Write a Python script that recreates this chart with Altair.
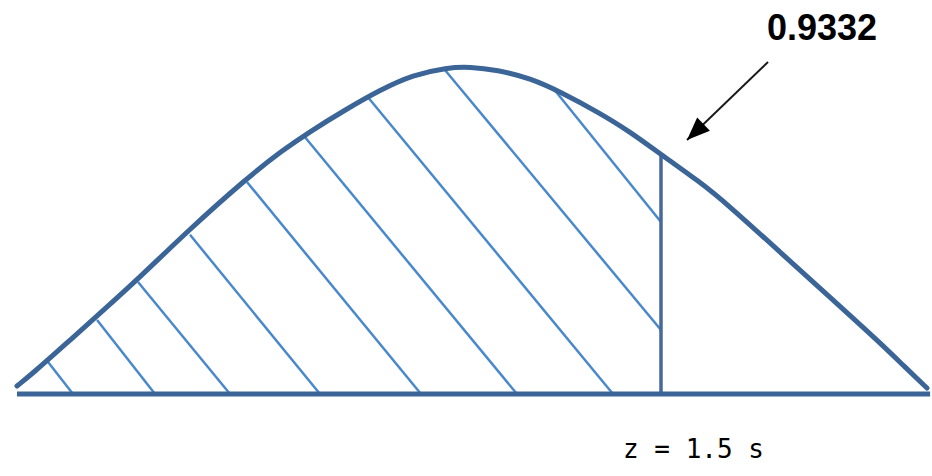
import altair as alt
import pandas as pd

# Bell curve, horizontal position in units of s (z), vertical in density units
curve_z = [-3.454, -3.331, -3.069, -2.815, -2.508, -2.146, -1.685, -1.408, -1.200,
           -0.931, -0.662, -0.408, -0.146, 0.031, 0.238, 0.492, 0.746, 1.008,
           1.262, 1.515, 1.800, 2.008, 2.415, 2.823, 3.185, 3.362, 3.546]
curve_h = [0.010, 0.026, 0.064, 0.101, 0.146, 0.203, 0.270, 0.305, 0.328,
           0.355, 0.380, 0.399, 0.408, 0.409, 0.405, 0.395, 0.376, 0.353,
           0.328, 0.2975, 0.265, 0.2375, 0.1775, 0.1175, 0.064, 0.036, 0.0075]

# Hatching of the area left of the cut: top and bottom ends of each stroke
hatch_z_top = [-3.215, -2.838, -2.523, -2.123, -1.685, -1.238, -0.754, -0.162, 0.669]
hatch_h_top = [0.040, 0.0925, 0.140, 0.199, 0.265, 0.321, 0.371, 0.405, 0.3825]
hatch_z_bottom = [-3.023, -2.392, -1.815, -1.123, -0.346, 0.392, 1.131, 1.5, 1.5]
hatch_h_bottom = [0.0, 0.0, 0.0, 0.0, 0.0, 0.0, 0.0, 0.080, 0.215]

# Cut point and its height on the curve
z_cut = 1.5
h_cut = 0.298

# Axis line extent
axis_z = [-3.454, 3.57]

# Annotations
area_label = "0.9332"
cut_label = "z = 1.5 s"
arrow_from = [2.323, 0.415]
arrow_to = [1.700, 0.3175]

CURVE = "#3b6497"
HATCH = "#4a88cc"
CUT = "#46699a"

xs = alt.Scale(domain=[-3.5846, 3.5846], nice=False, zero=False)
ys = alt.Scale(domain=[-0.1025, 0.4925], nice=False, zero=False)

curve_df = pd.DataFrame({"z": curve_z, "h": curve_h})
hatch_df = pd.DataFrame({"z": hatch_z_top, "h": hatch_h_top,
                         "z2": hatch_z_bottom, "h2": hatch_h_bottom})
axis_df = pd.DataFrame({"z": [axis_z[0]], "z2": [axis_z[1]], "h": [0.0]})
cut_df = pd.DataFrame({"z": [z_cut], "h": [0.0], "h2": [h_cut]})
arrow_df = pd.DataFrame({"z": [arrow_from[0]], "h": [arrow_from[1]],
                         "z2": [arrow_to[0]], "h2": [arrow_to[1]]})
tip_df = pd.DataFrame({"z": [arrow_to[0]], "h": [arrow_to[1]]})

X = lambda f: alt.X(f, type="quantitative", scale=xs, axis=None)
Y = lambda f: alt.Y(f, type="quantitative", scale=ys, axis=None)

hatch = alt.Chart(hatch_df).mark_rule(color=HATCH, strokeWidth=2.5).encode(
    x=X("z"), y=Y("h"), x2="z2", y2="h2")

cut = alt.Chart(cut_df).mark_rule(color=CUT, strokeWidth=3.5).encode(
    x=X("z"), y=Y("h"), y2="h2")

axis_line = alt.Chart(axis_df).mark_rule(color=CURVE, strokeWidth=5).encode(
    x=X("z"), x2="z2", y=Y("h"))

curve = alt.Chart(curve_df).mark_line(
    color=CURVE, strokeWidth=5, interpolate="basis",
    strokeCap="round", strokeJoin="round").encode(x=X("z"), y=Y("h"))

arrow = alt.Chart(arrow_df).mark_rule(color="#1a1a1a", strokeWidth=2).encode(
    x=X("z"), y=Y("h"), x2="z2", y2="h2")

tip = alt.Chart(tip_df).mark_point(
    shape="M0,0L-0.8,2L0.8,2Z", filled=True, color="#000000",
    opacity=1, size=529, angle=226, strokeWidth=0).encode(x=X("z"), y=Y("h"))

value_text = alt.Chart(pd.DataFrame({"t": [area_label]})).mark_text(
    font="Liberation Sans", fontWeight="bold", fontSize=36,
    align="center", baseline="alphabetic", color="#000000").encode(
    x=alt.datum(2.738, scale=xs, axis=None),
    y=alt.datum(0.4425, scale=ys, axis=None), text="t")

cut_text = alt.Chart(pd.DataFrame({"t": [cut_label]})).mark_text(
    font="DejaVu Sans Mono", fontSize=26,
    align="center", baseline="alphabetic", color="#000000").encode(
    x=alt.datum(1.75, scale=xs, axis=None),
    y=alt.datum(-0.08, scale=ys, axis=None), text="t")

chart = alt.layer(hatch, cut, axis_line, curve, arrow, tip, value_text, cut_text).properties(
    width=932, height=476, padding=0, autosize=alt.AutoSizeParams(type="none"),
    background="#ffffff"
).configure_view(stroke=None)

chart.save("out.html", embed_options={"renderer": "svg", "actions": False})
